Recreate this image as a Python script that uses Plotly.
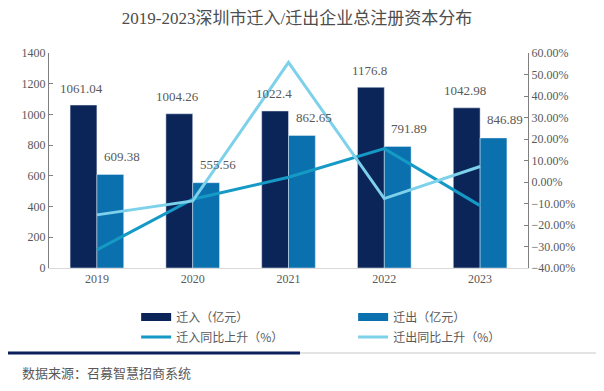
import plotly.graph_objects as go

years = ["2019", "2020", "2021", "2022", "2023"]
inflow = [1061.04, 1004.26, 1022.4, 1176.8, 1042.98]
outflow = [609.38, 555.56, 862.65, 791.89, 846.89]
inflow_yoy = [-0.316, -0.08, 0.022, 0.155, -0.11]
outflow_yoy = [-0.153, -0.088, 0.556, -0.077, 0.072]

NAVY = "#0b2559"
BLUE = "#0a70ae"
TEAL = "#159ac6"
LIGHT = "#7dd1ea"
TXT = "#595959"
FONT = "Liberation Serif, Noto Sans CJK SC, serif"

fig = go.Figure()
fig.add_trace(go.Bar(x=years, y=inflow, marker_color=NAVY, name="迁入（亿元）",
                     showlegend=False))
fig.add_trace(go.Bar(x=years, y=outflow, marker_color=BLUE, name="迁出（亿元）",
                     showlegend=False))
fig.add_trace(go.Scatter(x=years, y=inflow_yoy, yaxis="y2", mode="lines",
                         line=dict(color=TEAL, width=3), name="迁入同比上升（%）",
                         legend="legend2"))
fig.add_trace(go.Scatter(x=years, y=outflow_yoy, yaxis="y2", mode="lines",
                         line=dict(color=LIGHT, width=3), name="迁出同比上升（%）",
                         legend="legend2"))
# legend proxies for bars (wide rectangle symbols)
fig.add_trace(go.Scatter(x=[years[0]], y=[None], mode="lines",
                         line=dict(color=NAVY, width=8), name="迁入（亿元）", legend="legend"))
fig.add_trace(go.Scatter(x=[years[0]], y=[None], mode="lines",
                         line=dict(color=BLUE, width=8), name="迁出（亿元）", legend="legend"))

annotations = []
for i, v in enumerate(inflow):
    annotations.append(dict(x=i, y=v, xref="x", yref="y", text=f"{v:g}", showarrow=False,
                            xshift=-15, yshift=17, font=dict(size=13, color=TXT, family=FONT)))
for i, v in enumerate(outflow):
    annotations.append(dict(x=i, y=v, xref="x", yref="y", text=f"{v:g}", showarrow=False,
                            xshift=25, yshift=18, font=dict(size=13, color=TXT, family=FONT)))
annotations.append(dict(x=-0.0605, y=-0.488, xref="paper", yref="paper", xanchor="left",
                        yanchor="middle", text="数据来源：召募智慧招商系统", showarrow=False,
                        font=dict(size=13, color=TXT, family="Noto Sans CJK SC")))

shapes = [
    dict(type="line", xref="paper", yref="paper", x0=-0.102, x1=0.524, y0=-0.395, y1=-0.395,
         line=dict(color="#0b1f5c", width=3)),
    dict(type="line", xref="paper", yref="paper", x0=0.524, x1=1.15, y0=-0.395, y1=-0.395,
         line=dict(color="#e3e3e3", width=2)),
]

legend_font = dict(size=12, color=TXT, family="Noto Sans CJK SC")
fig.update_layout(
    width=596, height=383,
    margin=dict(l=41, r=76, t=45, b=123, autoexpand=False),
    paper_bgcolor="white", plot_bgcolor="white",
    barmode="group", bargap=0.44, bargroupgap=0,
    font=dict(family=FONT, color=TXT, size=12),
    title=dict(text="2019-2023深圳市迁入/迁出企业总注册资本分布", x=0.485, xref="container",
               xanchor="center", y=0.974, yref="container", yanchor="middle",
               font=dict(size=17, color="#4d4d4d", family=FONT)),
    xaxis=dict(type="category", range=[-0.5, len(years) - 0.5], showline=True,
               linecolor="#d9d9d9", linewidth=1, ticks="", automargin=False,
               tickfont=dict(size=12, color=TXT, family=FONT), showgrid=False),
    yaxis=dict(range=[0, 1400], dtick=200, showgrid=False, showline=True, automargin=False,
               linecolor="#7f7f7f", linewidth=1, ticks="inside", ticklen=4,
               tickcolor="#7f7f7f", tickfont=dict(size=12, color=TXT, family=FONT),
               zeroline=False),
    yaxis2=dict(range=[-0.4, 0.6], dtick=0.1, tickformat=".2%", overlaying="y",
                side="right", showgrid=False, showline=True, linecolor="#7f7f7f",
                linewidth=1, ticks="inside", ticklen=4, tickcolor="#7f7f7f", automargin=False,
                tickfont=dict(size=12, color=TXT, family=FONT), zeroline=False),
    legend=dict(orientation="h", x=0.215, xref="container", y=0.193, yref="container",
                xanchor="left", yanchor="middle",
                entrywidth=172, entrywidthmode="pixels", bgcolor="rgba(0,0,0,0)",
                font=legend_font),
    legend2=dict(orientation="h", x=0.215, xref="container", y=0.141, yref="container",
                 xanchor="left", yanchor="middle",
                 entrywidth=172, entrywidthmode="pixels", bgcolor="rgba(0,0,0,0)",
                 font=legend_font),
    annotations=annotations,
    shapes=shapes,
)

fig.write_html("out.html")
